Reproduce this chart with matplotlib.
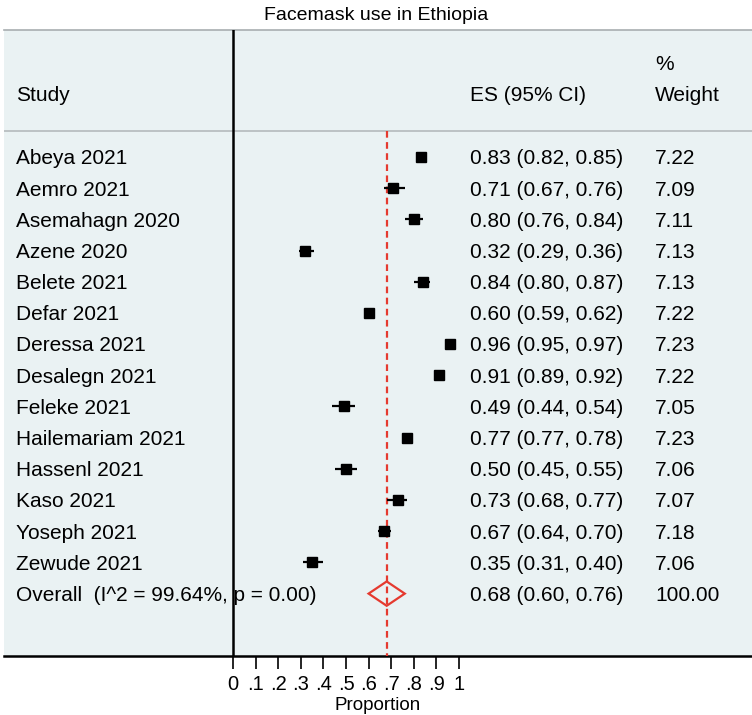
"""
Forest plot: facemask use in Ethiopia
"""

import numpy as np
from matplotlib import pyplot as plt
from matplotlib.patches import Polygon

plt.rcParams['font.family'] = ['Liberation Sans', 'DejaVu Sans']

studies = ["Abeya 2021", "Aemro 2021", "Asemahagn 2020", "Azene 2020",
           "Belete 2021", "Defar 2021", "Deressa 2021", "Desalegn 2021",
           "Feleke 2021", "Hailemariam 2021", "Hassenl 2021", "Kaso 2021",
           "Yoseph 2021", "Zewude 2021"]
es = [0.83, 0.71, 0.80, 0.32, 0.84, 0.60, 0.96, 0.91, 0.49, 0.77, 0.50,
      0.73, 0.67, 0.35]
ci_low = [0.82, 0.67, 0.76, 0.29, 0.80, 0.59, 0.95, 0.89, 0.44, 0.77, 0.45,
          0.68, 0.64, 0.31]
ci_high = [0.85, 0.76, 0.84, 0.36, 0.87, 0.62, 0.97, 0.92, 0.54, 0.78, 0.55,
           0.77, 0.70, 0.40]
weights = [7.22, 7.09, 7.11, 7.13, 7.13, 7.22, 7.23, 7.22, 7.05, 7.23, 7.06,
           7.07, 7.18, 7.06]

overall_label = "Overall  (I^2 = 99.64%, p = 0.00)"
overall_es = 0.68
overall_low = 0.60
overall_high = 0.76
overall_weight = 100.00

tick_values = [0, .1, .2, .3, .4, .5, .6, .7, .8, .9, 1]
tick_labels = ["0", ".1", ".2", ".3", ".4", ".5", ".6", ".7", ".8", ".9", "1"]

bg = '#EAF2F3'
red = '#E53A2F'
fs = 15

fig = plt.figure(figsize=(7.52, 7.15), dpi=100)
ax = fig.add_axes([4/752, (715-656)/715, 748/752, (656-30)/715])
ax.set_facecolor(bg)

# x scale: 0 at pixel 233, 1 at pixel 459
x0 = (4 - 233) / 226
x1 = (752 - 233) / 226
ax.set_xlim(x0, x1)
ax.set_ylim(17.0, -3.07)

for side in ['left', 'right']:
    ax.spines[side].set_visible(False)
ax.spines['top'].set_color('#A8AEB0')
ax.spines['top'].set_linewidth(1.2)
ax.spines['bottom'].set_linewidth(1.8)

ax.set_yticks([])
ax.set_xticks(tick_values)
ax.set_xticklabels(tick_labels, fontsize=14.5)
ax.tick_params(axis='x', direction='out', length=9, width=1.2, pad=5)
ax.set_xlabel("Proportion", fontsize=13.5, labelpad=2)

col_study = (16 - 233) / 226
col_es = (470 - 233) / 226
col_w = (655 - 233) / 226

# text placed with a small downward nudge so it sits on the row centre
dy = 0.06

# header
ax.text(col_study, -1.02 + dy, "Study", fontsize=fs, va='center')
ax.text(col_es, -1.02 + dy, "ES (95% CI)", fontsize=fs, va='center')
ax.text(col_w, -2.01 + dy, "%", fontsize=fs, va='center')
ax.text(col_w, -1.02 + dy, "Weight", fontsize=fs, va='center')
ax.axhline(0.167, color='#B4BABC', lw=1.2)

# vertical line at zero
ax.axvline(0, color='black', lw=1.8, zorder=5)
# overall effect dashed line
ax.plot([overall_es, overall_es], [0.167, 17.0], color=red, lw=1.6,
        dashes=(3, 2), zorder=3)

rows = np.arange(1, len(studies) + 1)
for i, y in enumerate(rows):
    ax.plot([ci_low[i], ci_high[i]], [y, y], color='black', lw=1.6,
            solid_capstyle='butt', zorder=4)
    side_px = 3.8 * np.sqrt(weights[i])
    ax.plot(es[i], y, marker='s', color='black',
            markersize=side_px * 0.72, zorder=4)
    ax.text(col_study, y + dy, studies[i], fontsize=fs, va='center')
    ax.text(col_es, y + dy, '{:.2f} ({:.2f}, {:.2f})'.format(es[i], ci_low[i], ci_high[i]),
            fontsize=fs, va='center')
    ax.text(col_w, y + dy, '{:.2f}'.format(weights[i]), fontsize=fs, va='center')

yo = len(studies) + 1
ax.text(col_study, yo + dy, overall_label, fontsize=fs, va='center')
ax.text(col_es, yo + dy, '{:.2f} ({:.2f}, {:.2f})'.format(overall_es, overall_low, overall_high),
        fontsize=fs, va='center')
ax.text(col_w, yo + dy, '{:.2f}'.format(overall_weight), fontsize=fs, va='center')
diamond = Polygon([(overall_low, yo), (overall_es, yo - 0.39),
                   (overall_high, yo), (overall_es, yo + 0.39)],
                  closed=True, facecolor='none', edgecolor=red, lw=1.6,
                  zorder=4)
ax.add_patch(diamond)

fig.text(0.5, 1 - 15/715, "Facemask use in Ethiopia", fontsize=14,
         ha='center', va='center')

fig.savefig('out.png', dpi=100, facecolor='white')
